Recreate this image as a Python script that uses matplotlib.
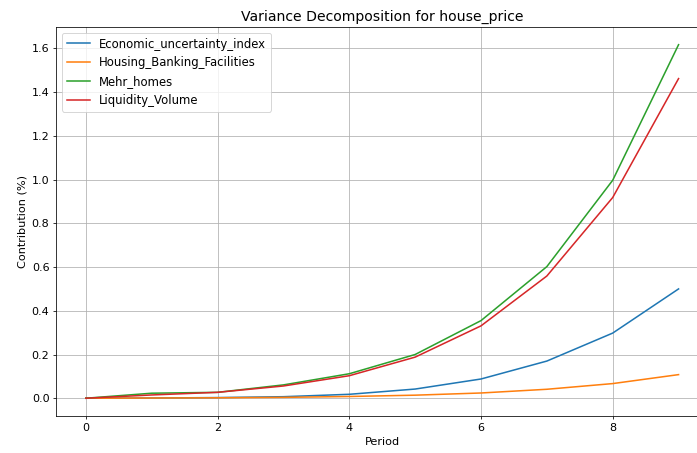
import matplotlib
matplotlib.use("Agg")
import matplotlib.pyplot as plt

periods = list(range(10))
economic_uncertainty_index = [0.0, 0.001, 0.003, 0.007, 0.018, 0.042, 0.088, 0.170, 0.298, 0.500]
housing_banking_facilities = [0.0, 0.001, 0.002, 0.004, 0.008, 0.014, 0.024, 0.041, 0.067, 0.108]
mehr_homes = [0.0, 0.023, 0.027, 0.061, 0.112, 0.200, 0.355, 0.602, 0.997, 1.617]
liquidity_volume = [0.0, 0.015, 0.027, 0.056, 0.103, 0.188, 0.331, 0.559, 0.918, 1.462]

series = {
    "Economic_uncertainty_index": economic_uncertainty_index,
    "Housing_Banking_Facilities": housing_banking_facilities,
    "Mehr_homes": mehr_homes,
    "Liquidity_Volume": liquidity_volume,
}

fig, ax = plt.subplots(figsize=(10, 6.5), dpi=69.7)
for name, vals in series.items():
    ax.plot(periods, vals, label=name, linewidth=1.6)
ax.set_title("Variance Decomposition for house_price", fontsize=14.5)
ax.set_xlabel("Period", fontsize=11.7)
ax.set_ylabel("Contribution (%)", fontsize=11.7)
ax.tick_params(labelsize=11.5)
ax.legend(fontsize=12, loc="upper left")
ax.grid(True)
fig.subplots_adjust(left=56.2/697, right=708.2/697, top=1-27/452, bottom=1-415/452)
fig.savefig("out.png", dpi=69.7)
